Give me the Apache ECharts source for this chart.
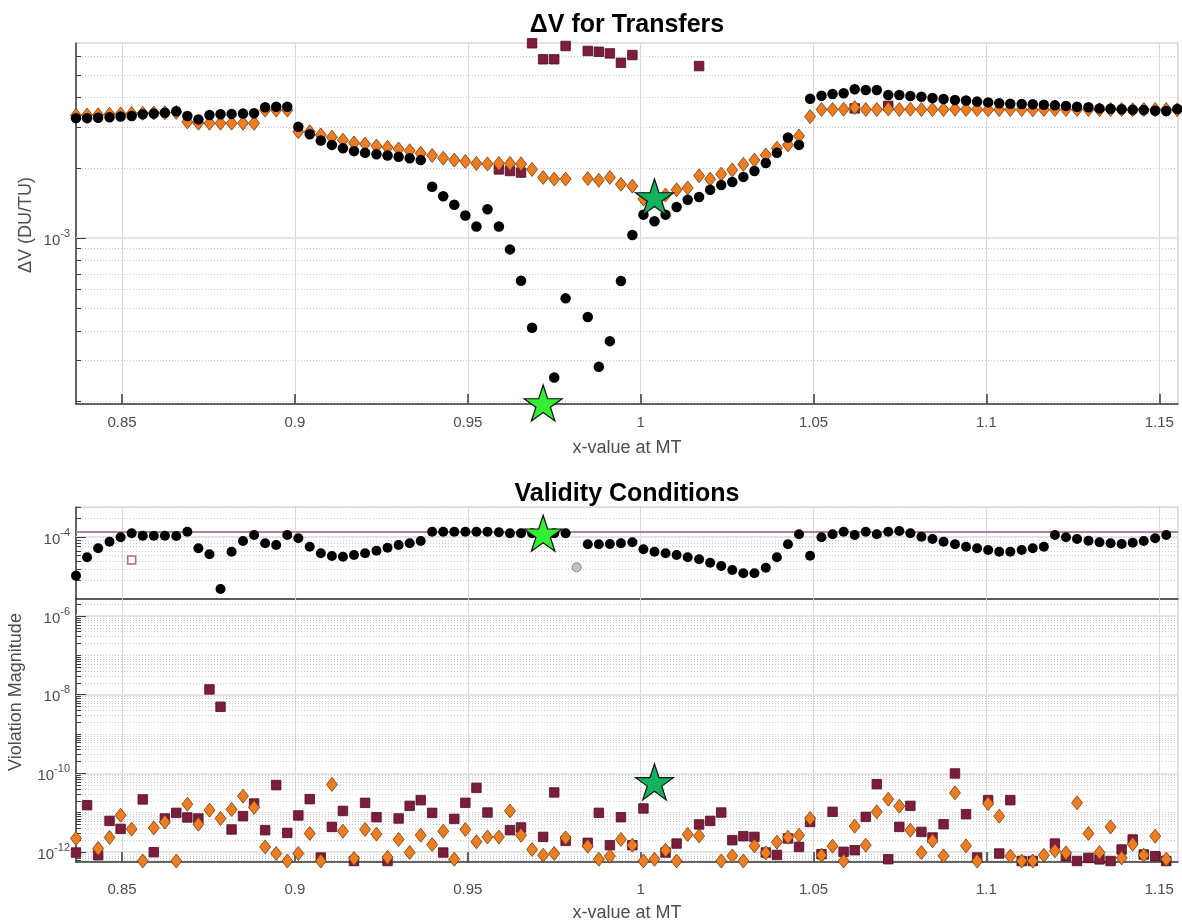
<!DOCTYPE html>
<html>
<head>
<meta charset="utf-8">
<title>ΔV for Transfers</title>
<script src="https://cdn.jsdelivr.net/npm/echarts@6/dist/echarts.min.js"></script>
<style>
  html, body { margin: 0; padding: 0; background: #fff; }
  #chart { width: 1182px; height: 922px; }
</style>
</head>
<body>
<div id="chart"></div>
<script>
// sampled x-values at MT (shared by both figures)
const xs = [
  0.8367, 0.8399, 0.8431, 0.8464, 0.8496, 0.8528, 0.8560, 0.8592, 0.8624, 0.8657,
  0.8689, 0.8721, 0.8753, 0.8785, 0.8817, 0.8850, 0.8882, 0.8914, 0.8946, 0.8978,
  0.9010, 0.9043, 0.9075, 0.9107, 0.9139, 0.9171, 0.9203, 0.9236, 0.9268, 0.9300,
  0.9332, 0.9364, 0.9397, 0.9429, 0.9461, 0.9493, 0.9525, 0.9557, 0.9590, 0.9622,
  0.9654, 0.9686, 0.9718, 0.9750, 0.9783, 0.9815, 0.9847, 0.9879, 0.9911, 0.9943,
  0.9976, 1.0008, 1.0040, 1.0072, 1.0104, 1.0136, 1.0169, 1.0201, 1.0233, 1.0265,
  1.0297, 1.0329, 1.0362, 1.0394, 1.0426, 1.0458, 1.0490, 1.0523, 1.0555, 1.0587,
  1.0619, 1.0651, 1.0683, 1.0716, 1.0748, 1.0780, 1.0812, 1.0844, 1.0876, 1.0909,
  1.0941, 1.0973, 1.1005, 1.1037, 1.1069, 1.1102, 1.1134, 1.1166, 1.1198, 1.1230,
  1.1262, 1.1295, 1.1327, 1.1359, 1.1391, 1.1423, 1.1455, 1.1488, 1.1520, 1.1552
];

// ΔV for transfers (DU/TU)
const dvBlack = [
  3.27e-3, 3.27e-3, 3.28e-3, 3.30e-3, 3.32e-3, 3.34e-3, 3.40e-3, 3.42e-3, 3.45e-3, 3.50e-3,
  3.34e-3, 3.23e-3, 3.37e-3, 3.40e-3, 3.41e-3, 3.42e-3, 3.43e-3, 3.64e-3, 3.66e-3, 3.66e-3,
  3.00e-3, 2.79e-3, 2.62e-3, 2.51e-3, 2.43e-3, 2.36e-3, 2.32e-3, 2.29e-3, 2.26e-3, 2.23e-3,
  2.20e-3, 2.16e-3, 1.66e-3, 1.51e-3, 1.39e-3, 1.25e-3, 1.12e-3, 1.33e-3, 1.12e-3, 8.94e-4,
  6.56e-4, 4.12e-4, 1.97e-4, 2.52e-4, 5.51e-4, null, 4.58e-4, 2.80e-4, 3.61e-4, 6.54e-4,
  1.03e-3, 1.26e-3, 1.18e-3, 1.26e-3, 1.36e-3, 1.46e-3, 1.50e-3, 1.61e-3, 1.69e-3, 1.74e-3,
  1.83e-3, 1.94e-3, 2.10e-3, 2.32e-3, 2.70e-3, 2.51e-3, 3.96e-3, 4.08e-3, 4.15e-3, 4.18e-3,
  4.35e-3, 4.32e-3, 4.32e-3, 4.11e-3, 4.11e-3, 4.07e-3, 4.04e-3, 3.99e-3, 3.95e-3, 3.91e-3,
  3.89e-3, 3.85e-3, 3.82e-3, 3.79e-3, 3.77e-3, 3.76e-3, 3.75e-3, 3.73e-3, 3.71e-3, 3.69e-3,
  3.66e-3, 3.64e-3, 3.60e-3, 3.59e-3, 3.57e-3, 3.55e-3, 3.54e-3, 3.52e-3, 3.51e-3, 3.58e-3
];
const dvOrange = [
  3.36e-3, 3.37e-3, 3.38e-3, 3.40e-3, 3.41e-3, 3.42e-3, 3.43e-3, 3.44e-3, 3.45e-3, 3.46e-3,
  3.15e-3, 3.11e-3, 3.11e-3, 3.11e-3, 3.11e-3, 3.11e-3, 3.11e-3, 3.54e-3, 3.54e-3, 3.54e-3,
  2.86e-3, 2.86e-3, 2.77e-3, 2.71e-3, 2.63e-3, 2.56e-3, 2.53e-3, 2.48e-3, 2.45e-3, 2.41e-3,
  2.37e-3, 2.31e-3, 2.26e-3, 2.20e-3, 2.16e-3, 2.13e-3, 2.09e-3, 2.08e-3, 2.09e-3, 2.09e-3,
  2.08e-3, 1.97e-3, 1.82e-3, 1.79e-3, 1.79e-3, null, 1.80e-3, 1.77e-3, 1.82e-3, 1.70e-3,
  1.67e-3, 1.47e-3, 1.50e-3, 1.53e-3, 1.61e-3, 1.64e-3, 1.85e-3, 1.79e-3, 1.88e-3, 1.96e-3,
  2.07e-3, 2.16e-3, 2.27e-3, 2.43e-3, 2.51e-3, 2.74e-3, 3.32e-3, 3.56e-3, 3.56e-3, 3.57e-3,
  3.63e-3, 3.56e-3, 3.56e-3, 3.58e-3, 3.56e-3, 3.57e-3, 3.56e-3, 3.56e-3, 3.56e-3, 3.57e-3,
  3.56e-3, 3.56e-3, 3.55e-3, 3.56e-3, 3.56e-3, 3.56e-3, 3.55e-3, 3.56e-3, 3.56e-3, 3.56e-3,
  3.56e-3, 3.56e-3, 3.55e-3, 3.56e-3, 3.56e-3, 3.55e-3, 3.56e-3, 3.56e-3, 3.56e-3, 3.55e-3
];
const dvMaroon = [
  null, null, null, null, null, null, null, null, null, null,
  null, null, null, null, null, null, null, null, null, null,
  null, null, null, null, null, null, null, null, null, null,
  null, null, null, null, null, null, null, null, 1.97e-3, 1.94e-3,
  1.91e-3, 6.85e-3, 5.85e-3, 5.85e-3, 6.67e-3, null, 6.35e-3, 6.30e-3, 6.20e-3, 5.65e-3,
  6.10e-3, null, null, null, null, null, 5.47e-3, null, null, null,
  null, null, null, null, null, null, null, null, null, null,
  3.60e-3, null, null, 3.69e-3, null, null, null, null, null, null,
  null, null, null, null, null, null, null, null, null, null,
  null, null, null, null, null, null, null, null, null, null
];
const dvStarLime = [0.9718, 1.96e-4];
const dvStarTeal = [1.0040, 1.50e-3];

// validity conditions, upper panel
const vcBlack = [
  2.38e-5, 4.71e-5, 6.57e-5, 8.40e-5, 9.89e-5, 1.15e-4, 1.05e-4, 1.05e-4, 1.05e-4, 1.04e-4,
  1.22e-4, 6.57e-5, 5.26e-5, 1.45e-5, 5.79e-5, 8.62e-5, 1.08e-4, 7.91e-5, 7.43e-5, 1.08e-4,
  9.53e-5, 6.98e-5, 5.46e-5, 4.94e-5, 4.81e-5, 5.13e-5, 5.46e-5, 6.01e-5, 6.72e-5, 7.43e-5,
  7.91e-5, 8.62e-5, 1.22e-4, 1.22e-4, 1.22e-4, 1.22e-4, 1.22e-4, 1.22e-4, 1.19e-4, 1.15e-4,
  1.15e-4, 1.15e-4, 1.15e-4, 1.15e-4, 1.15e-4, null, 7.63e-5, 7.63e-5, 7.71e-5, 7.91e-5,
  8.21e-5, 6.33e-5, 5.79e-5, 5.46e-5, 5.13e-5, 4.71e-5, 4.37e-5, 3.85e-5, 3.41e-5, 2.94e-5,
  2.60e-5, 2.60e-5, 3.20e-5, 4.71e-5, 7.65e-5, 1.11e-4, 4.99e-5, 9.89e-5, 1.11e-4, 1.22e-4,
  1.08e-4, 1.22e-4, 1.11e-4, 1.22e-4, 1.25e-4, 1.15e-4, 1.01e-4, 9.28e-5, 8.40e-5, 7.63e-5,
  6.98e-5, 6.57e-5, 6.17e-5, 5.79e-5, 5.79e-5, 6.17e-5, 6.57e-5, 6.98e-5, 1.08e-4, 9.89e-5,
  9.28e-5, 8.72e-5, 8.21e-5, 7.91e-5, 7.71e-5, 8.09e-5, 8.62e-5, 9.53e-5, 1.08e-4, null
];
const vcOpenSquare = [0.8528, 4.25e-5];
const vcGray = [0.9815, 3.25e-5];
const vcLimit = 1.2e-4;
const vcStarLime = [0.9718, 1.15e-4];

// validity conditions, lower panel
const vcMaroon = [
  9.70e-13, 1.55e-11, 8.29e-13, 6.18e-12, 3.87e-12, null, 2.17e-11, 9.89e-13, 7.12e-12, 9.89e-12,
  7.55e-12, 7.12e-12, 1.36e-8, 4.92e-9, 3.74e-12, 8.15e-12, 1.71e-11, 3.59e-12, 5.01e-11, 3.06e-12,
  8.49e-12, 2.21e-11, 7.24e-13, 4.35e-12, 1.11e-11, 5.9e-13, 1.78e-11, 7.67e-12, 5.9e-13, 7.12e-12,
  1.49e-11, 2.08e-11, 9.89e-12, 9.70e-13, 6.95e-12, 1.78e-11, 4.28e-11, 1.01e-11, null, 3.59e-12,
  4.20e-12, null, 2.42e-12, 3.27e-11, 1.92e-12, null, 1.71e-12, 9.89e-12, 1.49e-12, 7.67e-12,
  1.49e-12, 1.28e-11, null, 9.70e-13, 1.64e-12, null, 5.01e-12, 6.18e-12, 1.01e-11, 2.00e-12,
  2.52e-12, 2.42e-12, 9.70e-13, 8.43e-13, 2.21e-12, 1.35e-12, 5.83e-12, 8.79e-13, 1.05e-11, 1.01e-12,
  1.11e-12, 7.82e-12, 5.31e-11, 6.56e-13, 4.35e-12, 1.49e-11, 3.24e-12, 2.34e-12, 5.09e-12, 9.94e-11,
  9.16e-12, 7.24e-13, 2.08e-11, 9.16e-13, 2.08e-11, 5.9e-13, 5.9e-13, null, 1.64e-12, 7.82e-13,
  5.9e-13, 7.08e-13, 6.5e-13, 5.9e-13, 1.16e-12, 2.08e-12, 8.63e-13, 7.82e-13, 5.9e-13, null
];
const vcOrange = [
  2.21e-12, null, 1.23e-12, 2.34e-12, 8.63e-12, 3.80e-12, 5.9e-13, 4.10e-12, 5.83e-12, 5.9e-13,
  1.64e-11, 5.09e-12, 1.16e-11, 7.12e-12, 1.21e-11, 2.63e-11, 1.36e-11, 1.35e-12, 9.16e-13, 5.9e-13,
  9.16e-13, 2.96e-12, 5.9e-13, 5.22e-11, 3.38e-12, 6.84e-13, 3.74e-12, 2.84e-12, 7.3e-13, 2.08e-12,
  9.70e-13, 2.67e-12, 1.55e-12, 3.38e-12, 6.56e-13, 3.74e-12, 1.81e-12, 2.42e-12, 2.42e-12, 1.11e-11,
  2.67e-12, 1.16e-12, 8.29e-13, 9.16e-13, 2.29e-12, null, 1.41e-12, 6.56e-13, 7.82e-13, 2.08e-12,
  1.49e-12, 5.9e-13, 6.56e-13, 1.11e-12, 5.9e-13, 2.79e-12, 2.57e-12, null, 5.9e-13, 7.96e-13,
  5.9e-13, 1.43e-12, 9.48e-13, 1.78e-12, 2.38e-12, 2.67e-12, 7.12e-12, 8.29e-13, 1.41e-12, 5.9e-13,
  4.53e-12, 1.49e-12, 1.05e-11, 2.21e-11, 1.46e-11, 3.59e-12, 9.70e-13, 1.92e-12, 7.96e-13, 3.19e-11,
  1.43e-12, 5.9e-13, 1.71e-11, 8.15e-12, 7.82e-13, 5.9e-13, 5.9e-13, 8.29e-13, 1.07e-12, 9.48e-13,
  1.78e-11, 2.96e-12, 9.70e-13, 4.35e-12, 7.08e-13, 1.58e-12, 8.29e-13, 2.52e-12, 6.56e-13, null
];
const vcStarTeal = [1.0040, 6.08e-11];

// ticks
const xTicks = [0.85, 0.9, 0.95, 1, 1.05, 1.1, 1.15];
const dvTickExp = [-3];
const vcUpperTickExp = [-4];
const vcLowerTickExp = [-12, -10, -8, -6];

const X_MIN = 0.8367, X_MAX = 1.1554;
const dvRange = [1.94e-4, 6.87e-3];
const vcUpperRange = [1e-5, 3.05e-4];
const vcLowerRange = [5.57e-13, 2.71e-6];

const FONT = '"Liberation Sans", Arial, sans-serif';
const TEXT = '#4d4d4d';
const AXIS = '#3a3a3a';
const ORANGE = '#ee7d22';
const MAROON = '#7d1c3d';
const LIME = '#33f033';
const TEAL = '#12b35c';
const STAR = 'path://M50,0 L61.23,34.55 L97.55,34.55 L68.17,55.9 L79.39,90.45 L50,69.1 L20.61,90.45 L31.83,55.9 L2.45,34.55 L38.77,34.55 Z';

const grids = [
  { left: 76, top: 43, width: 1102, height: 361 },
  { left: 76, top: 507, width: 1102, height: 92 },
  { left: 76, top: 599, width: 1102, height: 263 }
];

const pairs = arr => xs.map((x, i) => [x, arr[i]]).filter(p => p[1] != null);

function minorValues(range, extra) {
  const out = [];
  const lo = Math.floor(Math.log10(range[0])), hi = Math.ceil(Math.log10(range[1]));
  for (let e = lo; e <= hi; e++) {
    for (let m = 2; m <= 9; m++) {
      const v = m * Math.pow(10, e);
      if (v > range[0] && v < range[1]) out.push(v);
    }
  }
  return out.concat(extra || []);
}

// grid lines and MATLAB-like inner ticks, drawn through the axes' own scales
function guideSeries(gi, range, majors, minors, bottomTicks, extraLines) {
  const ppd = grids[gi].height / (Math.log10(range[1]) - Math.log10(range[0]));
  const pxX = grids[gi].width / (X_MAX - X_MIN);
  const vGrid = { color: '#d9d9d9', width: 1, type: 'solid' };
  const hMajor = { color: '#e3e3e3', width: 2, type: 'solid' };
  const hMinor = { color: '#cccccc', width: 1, type: [1, 2] };
  const tick = { color: AXIS, width: 1, type: 'solid' };
  const tickX = { color: AXIS, width: 1.5, type: 'solid' };
  const hLine = (v, style) => [{ coord: [X_MIN, v], lineStyle: style }, { coord: [X_MAX, v], lineStyle: style }];
  const data = [];
  xTicks.forEach(t => data.push({ xAxis: t, lineStyle: vGrid }));
  minors.forEach(v => data.push(hLine(v, hMinor)));
  majors.forEach(v => data.push(hLine(v, hMajor)));
  minors.forEach(v => data.push([{ coord: [X_MIN, v], lineStyle: tick }, { coord: [X_MIN + 5 / pxX, v], lineStyle: tick }]));
  majors.forEach(v => data.push([{ coord: [X_MIN, v], lineStyle: tick }, { coord: [X_MIN + 10 / pxX, v], lineStyle: tick }]));
  if (bottomTicks) {
    const topV = range[0] * Math.pow(10, 10 / ppd);
    xTicks.forEach(t => data.push([{ coord: [t, range[0]], lineStyle: tickX }, { coord: [t, topV], lineStyle: tickX }]));
  }
  (extraLines || []).forEach(l => data.push(hLine(l.value, l.style)));
  return {
    type: 'line', xAxisIndex: gi, yAxisIndex: gi, data: [], silent: true, z: 1,
    markLine: { silent: true, z: 1, symbol: ['none', 'none'], label: { show: false }, animation: false, data }
  };
}

const xLabel = v => xTicks.some(t => Math.abs(t - v) < 1e-6) ? String(+v.toFixed(2)) : '';

function powLabel(exps) {
  return v => {
    const e = Math.log10(v), r = Math.round(e);
    if (Math.abs(e - r) > 1e-6 || exps.indexOf(r) < 0) return '';
    return '{b|10}{e|' + r + '}';
  };
}
const powRich = {
  b: { fontSize: 15, lineHeight: 20, verticalAlign: 'bottom', color: TEXT, fontFamily: FONT },
  e: { fontSize: 11, lineHeight: 20, verticalAlign: 'top', color: TEXT, fontFamily: FONT }
};

function xAxisFor(gi, labels, margin, lineColor) {
  return {
    type: 'value', gridIndex: gi, min: X_MIN, max: X_MAX, splitNumber: 6,
    axisLine: { show: true, onZero: false, lineStyle: { color: lineColor || AXIS, width: 1.5 } },
    axisTick: { show: false },
    splitLine: { show: false },
    axisLabel: { show: labels, margin: margin, formatter: xLabel, color: TEXT, fontSize: 15, fontFamily: FONT }
  };
}
function yAxisFor(gi, range, exps) {
  return {
    type: 'log', logBase: 10, gridIndex: gi, min: range[0], max: range[1], splitNumber: 10,
    axisLine: { show: true, lineStyle: { color: AXIS, width: 1.5 } },
    axisTick: { show: false },
    splitLine: { show: false },
    axisLabel: { margin: 6, formatter: powLabel(exps), rich: powRich, color: TEXT, fontSize: 15, fontFamily: FONT }
  };
}

const dots = (gi, arr, size) => ({
  type: 'scatter', xAxisIndex: gi, yAxisIndex: gi, z: 4, symbol: 'circle', symbolSize: size,
  itemStyle: { color: '#000', opacity: 1 }, data: pairs(arr)
});
const diamonds = (gi, arr) => ({
  type: 'scatter', xAxisIndex: gi, yAxisIndex: gi, z: 3, symbol: 'diamond', symbolSize: [11, 14],
  itemStyle: { color: ORANGE, borderColor: '#6e3a0e', borderWidth: 0.8, opacity: 1 }, data: pairs(arr)
});
const squares = (gi, arr) => ({
  type: 'scatter', xAxisIndex: gi, yAxisIndex: gi, z: 2, symbol: 'rect', symbolSize: 9.5,
  itemStyle: { color: MAROON, borderColor: '#4d0f24', borderWidth: 0.8, opacity: 1 }, data: pairs(arr)
});
const star = (gi, pt, color) => ({
  type: 'scatter', xAxisIndex: gi, yAxisIndex: gi, z: 6, symbol: STAR, symbolSize: [38, 36],
  itemStyle: { color: color, borderColor: '#111', borderWidth: 1.2, opacity: 1 }, data: [pt]
});

const textEl = (x, y, text, size, bold, color, rot) => ({
  type: 'text', x: x, y: y, rotation: rot || 0, silent: true,
  style: {
    text: text, fill: color, fontSize: size, fontWeight: bold ? 'bold' : 'normal', fontFamily: FONT,
    align: 'center', verticalAlign: 'middle', textAlign: 'center', textVerticalAlign: 'middle'
  }
});

const chart = echarts.init(document.getElementById('chart'), null, { renderer: 'canvas' });

chart.setOption({
  backgroundColor: '#fff',
  animation: false,
  grid: grids.map(g => Object.assign({ show: true, borderColor: '#c4c4c4', borderWidth: 1, backgroundColor: 'transparent' }, g)),
  xAxis: [xAxisFor(0, true, 11), xAxisFor(1, false, 0, '#3b3128'), xAxisFor(2, true, 20)],
  yAxis: [yAxisFor(0, dvRange, dvTickExp), yAxisFor(1, vcUpperRange, vcUpperTickExp), yAxisFor(2, vcLowerRange, vcLowerTickExp)],
  graphic: [
    textEl(627, 25, 'ΔV for Transfers', 25, true, '#000'),
    textEl(627, 448, 'x-value at MT', 18, false, TEXT),
    textEl(26, 225, 'ΔV (DU/TU)', 18, false, TEXT, Math.PI / 2),
    textEl(627, 494, 'Validity Conditions', 25, true, '#000'),
    textEl(627, 913, 'x-value at MT', 18, false, TEXT),
    textEl(16, 692, 'Violation Magnitude', 18, false, TEXT, Math.PI / 2)
  ],
  series: [
    guideSeries(0, dvRange, [1e-3], minorValues(dvRange), true),
    squares(0, dvMaroon),
    diamonds(0, dvOrange),
    dots(0, dvBlack, 10.5),
    star(0, dvStarLime, LIME),
    star(0, dvStarTeal, TEAL),

    guideSeries(1, vcUpperRange, [1e-4], minorValues(vcUpperRange), false,
      [{ value: vcLimit, style: { color: '#b0849f', width: 2, type: 'solid' } }]),
    dots(1, vcBlack, 10),
    {
      type: 'scatter', xAxisIndex: 1, yAxisIndex: 1, z: 3, symbol: 'rect', symbolSize: 8,
      itemStyle: { color: '#fff', borderColor: '#c0607c', borderWidth: 1.5, opacity: 1 }, data: [vcOpenSquare]
    },
    {
      type: 'scatter', xAxisIndex: 1, yAxisIndex: 1, z: 3, symbol: 'circle', symbolSize: 9,
      itemStyle: { color: '#c4c4c4', borderColor: '#808080', borderWidth: 1, opacity: 1 }, data: [vcGray]
    },
    star(1, vcStarLime, LIME),

    guideSeries(2, vcLowerRange, [1e-12, 1e-10, 1e-8, 1e-6], minorValues(vcLowerRange, [1e-11, 1e-9, 1e-7]), true),
    squares(2, vcMaroon),
    diamonds(2, vcOrange),
    star(2, vcStarTeal, TEAL)
  ]
});
</script>
</body>
</html>
